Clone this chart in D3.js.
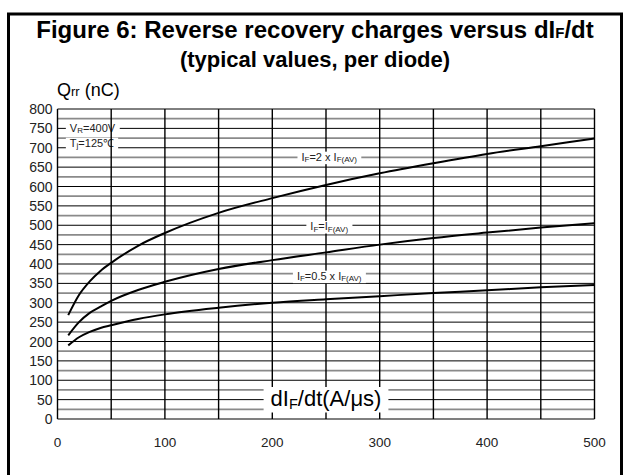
<!DOCTYPE html>
<html><head><meta charset="utf-8">
<script src="https://cdn.jsdelivr.net/npm/d3@7"></script>
<style>body{margin:0;background:#fff}svg{display:block}text{font-family:"Liberation Sans",Arial,sans-serif}</style>
</head><body><svg id="c" width="629" height="475"></svg>
<script>
const xTicks = [0,100,200,300,400,500];
const yTicks = [0,50,100,150,200,250,300,350,400,450,500,550,600,650,700,750,800];
const didt = [10,20,30,40,50,75,100,150,200,250,300,350,400,450,500];
const qrrIF2 = [268,320,355,382,403,447,480,532,570,604,634,660,684,704,724];
const qrrIF1 = [216,250,274,290,305,333,354,387,410,430,450,467,481,494,505];
const qrrIF05 = [190,211,225,235,242,258,270,287,300,309,317,325,332,340,346];
const series = [qrrIF2, qrrIF1, qrrIF05];
const curveLabels = [
  {main:"I", sub1:"F", mid:"=2 x I", sub2:"F(AV)", x:253, y:677},
  {main:"I", sub1:"F", mid:"=I", sub2:"F(AV)", x:253, y:498},
  {main:"I", sub1:"F", mid:"=0.5 x I", sub2:"F(AV)", x:253, y:370}
];

const svg = d3.select("#c");
const x = d3.scaleLinear().domain([0,500]).range([57.5,594.5]);
const y = d3.scaleLinear().domain([0,800]).range([419,109]);

// frame
svg.append("path").attr("d","M8.5,490 V14 H621.5 V490").attr("fill","none").attr("stroke","#000").attr("stroke-width",3);

// title
const t1 = svg.append("text").attr("x",315).attr("y",38).attr("text-anchor","middle").attr("font-weight","bold").attr("font-size",24);
t1.append("tspan").text("Figure 6: Reverse recovery charges versus dI");
t1.append("tspan").attr("font-size",15).text("F");
t1.append("tspan").text("/dt");
svg.append("text").attr("x",315).attr("y",67).attr("text-anchor","middle").attr("font-weight","bold").attr("font-size",22).text("(typical values, per diode)");

// y unit label
const ql = svg.append("text").attr("x",57).attr("y",96).attr("font-size",18);
ql.append("tspan").text("Q");
ql.append("tspan").attr("font-size",13).text("rr");
ql.append("tspan").text(" (nC)");

// horizontal grid
const hVals = d3.range(0,801,25);
svg.append("g").selectAll("line").data(hVals).join("line")
  .attr("x1",x(0)).attr("x2",x(500)).attr("y1",d=>y(d)).attr("y2",d=>y(d))
  .attr("stroke",d=>d%50===0?"#000":"#8a8a8a").attr("stroke-width",d=>d%50===0?1:1.7);

// Top-left condition labels
function condLabel(parts, xv, yv){
  const g = svg.append("g");
  const tx = g.append("text").attr("x",x(xv)).attr("y",y(yv)+4).attr("font-size",11).attr("fill","#222");
  parts.forEach(p=>{ const s=tx.append("tspan").text(p.t); if(p.sub) s.attr("font-size",8).attr("dy",1.5); else if(p.back) s.attr("dy",-1.5); });
  const bb = tx.node().getBBox();
  g.insert("rect","text").attr("x",bb.x-4).attr("y",bb.y+1).attr("width",bb.width+8).attr("height",bb.height-1).attr("fill","#fff");
}
condLabel([{t:"V"},{t:"R",sub:true},{t:"=400V",back:true}],11.5,752);
condLabel([{t:"T"},{t:"j",sub:true},{t:"=125℃",back:true}],11.5,713);

// vertical grid
svg.append("g").selectAll("line").data(d3.range(0,501,50)).join("line")
  .attr("x1",d=>x(d)).attr("x2",d=>x(d)).attr("y1",y(800)).attr("y2",y(0))
  .attr("stroke","#000").attr("stroke-width",1.4);

// y tick labels
svg.append("g").selectAll("text").data(yTicks).join("text")
  .attr("x",52.5).attr("y",d=>y(d)+5).attr("text-anchor","end").attr("font-size",14).attr("fill","#222").text(d=>d);
// x tick labels
svg.append("g").selectAll("text").data(xTicks).join("text")
  .attr("x",d=>x(d)).attr("y",446.5).attr("text-anchor","middle").attr("font-size",13.5).attr("fill","#222").text(d=>d);

// curves
const line = d3.line().x((d,i)=>x(didt[i])).y(d=>y(d)).curve(d3.curveMonotoneX);
svg.append("g").selectAll("path").data(series).join("path")
  .attr("d",line).attr("fill","none").attr("stroke","#000").attr("stroke-width",2);

// curve labels
curveLabels.forEach(c=>{
  const g = svg.append("g");
  const tx = g.append("text").attr("x",x(c.x)).attr("y",y(c.y)+4).attr("text-anchor","middle").attr("font-size",11).attr("fill","#222");
  tx.append("tspan").text(c.main);
  tx.append("tspan").attr("font-size",8).attr("dy",1.5).text(c.sub1);
  tx.append("tspan").attr("dy",-1.5).text(c.mid);
  tx.append("tspan").attr("font-size",8).attr("dy",1.5).text(c.sub2);
  const bb = tx.node().getBBox();
  g.insert("rect","text").attr("x",bb.x-4).attr("y",bb.y+1).attr("width",bb.width+8).attr("height",bb.height-1).attr("fill","#fff");
});

// x axis title
{
  const g = svg.append("g");
  const tx = g.append("text").attr("x",x(250)).attr("y",406).attr("text-anchor","middle").attr("font-size",22);
  tx.append("tspan").text("dI");
  tx.append("tspan").attr("font-size",14.5).attr("dy",2.5).text("F");
  tx.append("tspan").attr("dy",-2.5).text("/dt(A/μs)");
  const bb = tx.node().getBBox();
  g.insert("rect","text").attr("x",bb.x-7).attr("y",bb.y+1).attr("width",bb.width+14).attr("height",bb.height).attr("fill","#fff");
}
</script></body></html>
